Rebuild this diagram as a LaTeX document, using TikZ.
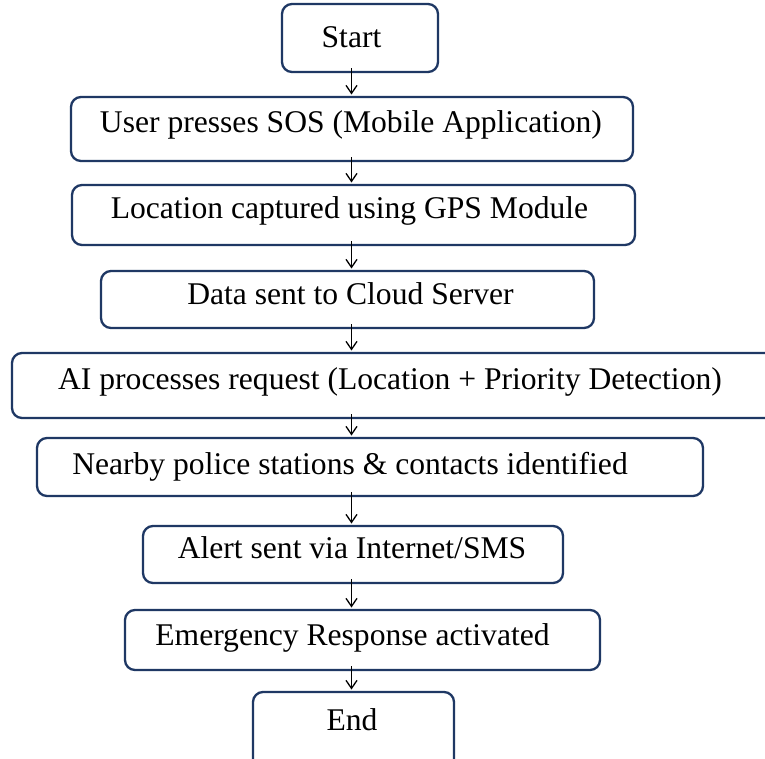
\documentclass[tikz,border=0pt]{standalone}
\usepackage{fontspec}
\setmainfont{Liberation Serif}
\usetikzlibrary{arrows.meta}
\definecolor{boxline}{RGB}{31,56,100}
\tikzset{
  flowbox/.style={draw=boxline, line width=2.3pt, rounded corners=10pt, fill=white},
  lbl/.style={inner sep=0pt, anchor=base, font=\fontsize{31.6}{38}\selectfont, text=black},
  arr/.style={draw=black, line width=1.3pt, -{Straight Barb[length=8pt,width=11pt,line width=1.3pt]}, shorten >=2.5pt},
}
\newcommand{\flowrect}[5]{% name, left, top, right, bottom
  \node[flowbox, minimum width={(#4-#2)*1pt}, minimum height={(#5-#3)*1pt}, inner sep=0pt, outer sep=0pt]
    (#1) at ({(#2+#4)/2}, {(#3+#5)/2}) {};}
\begin{document}
\begin{tikzpicture}[x=1pt, y=-1pt]
  \clip (0,0) rectangle (765,758);
  \fill[white] (0,0) rectangle (765,758);
  \coordinate (axis) at (351.5,0);
  % boxes
  \flowrect{start}{282}{4}{438}{72}
  \flowrect{sos}{71}{97}{633}{161}
  \flowrect{gps}{72}{185}{635}{245}
  \flowrect{cloud}{101}{271}{594}{328}
  \flowrect{ai}{12}{353}{805}{418}
  \flowrect{police}{37}{438}{703}{496}
  \flowrect{alert}{143}{526}{563}{583}
  \flowrect{resp}{125}{610}{600}{670}
  \flowrect{end}{253}{692}{454}{800}
  % labels
  \node[lbl] (tstart) at (351.5,47) {Start};
  \node[lbl] (tsos) at (351,132) {User presses SOS (Mobile Application)};
  \node[lbl] (tgps) at (349.5,218) {Location captured using GPS Module};
  \node[lbl] (tcloud) at (350.5,304) {Data sent to Cloud Server};
  \node[lbl] (tai) at (390,389) {AI processes request (Location + Priority Detection)};
  \node[lbl] (tpolice) at (350,474) {Nearby police stations \& contacts identified};
  \node[lbl] (talert) at (352,558) {Alert sent via Internet/SMS};
  \node[lbl] (tresp) at (352.5,645) {Emergency Response activated};
  \node[lbl] (tend) at (352,730) {End};
  % connectors
  \draw[arr] ([yshift=4pt]start.south -| axis) -- (sos.north -| axis);
  \draw[arr] ([yshift=4pt]sos.south -| axis) -- (gps.north -| axis);
  \draw[arr] ([yshift=4pt]gps.south -| axis) -- (cloud.north -| axis);
  \draw[arr] ([yshift=4pt]cloud.south -| axis) -- (ai.north -| axis);
  \draw[arr] ([yshift=4pt]ai.south -| axis) -- (police.north -| axis);
  \draw[arr] ([yshift=4pt]police.south -| axis) -- (alert.north -| axis);
  \draw[arr] ([yshift=4pt]alert.south -| axis) -- (resp.north -| axis);
  \draw[arr] ([yshift=4pt]resp.south -| axis) -- (end.north -| axis);
\end{tikzpicture}
\end{document}
